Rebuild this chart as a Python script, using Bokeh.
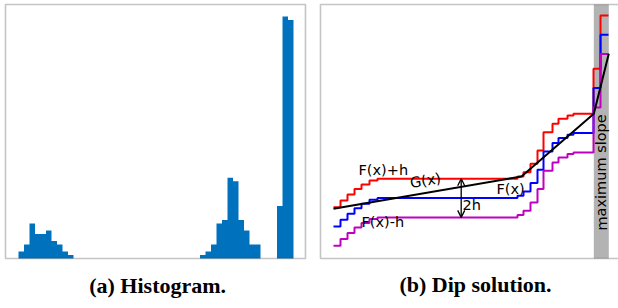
from bokeh.plotting import figure
from bokeh.layouts import row
from bokeh.models import Label, Arrow, OpenHead, BoxAnnotation
from bokeh.embed import file_html
from bokeh.resources import INLINE

# ---------------- data: (a) histogram ----------------
hist_counts = [2, 4, 10, 7, 7, 8, 5, 4, 2, 1] + [0] * 23 + \
              [1, 2, 4, 10, 11, 23, 22, 11, 8, 4, 4] + [0, 0, 0] + [15, 69, 68]
hist_edges = list(range(len(hist_counts) + 1))

# ---------------- data: (b) dip solution ----------------
step_x = [13, 20, 27, 34, 41, 49, 57, 197, 203, 210, 217, 223, 232, 238, 247, 253, 273, 280, 288]
F_levels = [32, 38.7, 44.7, 50.2, 54.7, 58.7, 60.4, 62.7, 67, 75.4, 88.7, 107, 115.4,
            120.4, 123.7, 125.4, 170.4, 223.7]
h = 19.3
G_x = [13, 201, 273.3, 288.3]
G_y = [49.7, 82, 144.7, 204.7]

HIST_COLOR = "#0072BD"
FRAME = "#404040"
LABEL_FONT = "DejaVu Sans"
LABEL_SIZE = "14.5px"
CAP_FONT = "Liberation Serif"
CAP_SIZE = "22px"

# ---------------- panel (a) ----------------
ya_top = max(hist_counts) * 1.05
pA = figure(width=310, height=308, x_range=(-3.2727, 53.0909), y_range=(-14.26, 73.59),
            output_backend="svg", toolbar_location=None,
            min_border_left=0, min_border_right=0, min_border_top=0, min_border_bottom=0)
pA.axis.visible = False
pA.grid.visible = False
pA.outline_line_color = None
pA.varea_step(x=hist_edges, y1=[0] * len(hist_edges), y2=hist_counts + [0],
              step_mode="after", fill_color=HIST_COLOR)
pA.add_layout(BoxAnnotation(left=-2.3636, right=52.18, bottom=0, top=ya_top,
                            fill_alpha=0, line_color=FRAME, line_width=1.6))
pA.add_layout(Label(x=25.3, y=-11.3, text="(a) Histogram.", text_align="center",
                    text_font=CAP_FONT, text_font_style="bold", text_font_size=CAP_SIZE,
                    text_color="black"))

# ---------------- panel (b) ----------------
pB = figure(width=308, height=308, x_range=(-10, 298), y_range=(-50, 258),
            output_backend="svg", toolbar_location=None,
            min_border_left=0, min_border_right=0, min_border_top=0, min_border_bottom=0)
pB.axis.visible = False
pB.grid.visible = False
pB.outline_line_color = None

pB.add_layout(BoxAnnotation(left=G_x[2], right=G_x[3], bottom=0, top=254,
                            fill_color="#b3b3b3", fill_alpha=1.0,
                            line_color=None, level="underlay"))

sx = step_x
Fy = F_levels + [F_levels[-1]]
pB.step(sx, [v + h for v in Fy], mode="after", line_color="#ff0000", line_width=2)
pB.step(sx, Fy, mode="after", line_color="#0000ff", line_width=2)
pB.step(sx, [v - h for v in Fy], mode="after", line_color="#bf00bf", line_width=2)
pB.line(G_x, G_y, line_color="black", line_width=2)

flat = F_levels[6]
ax = 140.7
pB.add_layout(Arrow(start=OpenHead(size=7, line_width=1.3), end=OpenHead(size=7, line_width=1.3),
                    x_start=ax, y_start=flat - h, x_end=ax, y_end=flat + h, line_width=1.3))

for (lx, ly, txt, ang) in [(38, 81, "F(x)+h", 0), (91, 67.5, "G(x)", 0.17),
                           (176, 62, "F(x)", 0), (41, 29, "F(x)-h", 0), (142, 46, "2h", 0)]:
    pB.add_layout(Label(x=lx, y=ly, text=txt, angle=ang, text_font=LABEL_FONT,
                        text_font_size=LABEL_SIZE, text_color="black"))
pB.add_layout(Label(x=281, y=28, text="maximum slope", angle=1.5708, text_align="left",
                    text_baseline="middle", text_font=LABEL_FONT, text_font_size=LABEL_SIZE,
                    text_color="black"))

# frame: left, bottom, top (right edge lies beyond the visible area)
pB.add_layout(BoxAnnotation(left=0, right=400, bottom=0, top=254,
                            fill_alpha=0, line_color=FRAME, line_width=1.6))

pB.add_layout(Label(x=155, y=-38.5, text="(b) Dip solution.", text_align="center",
                    text_font=CAP_FONT, text_font_style="bold", text_font_size=CAP_SIZE,
                    text_color="black"))

layout = row(pA, pB)
open("out.html", "w").write(file_html(layout, INLINE))
